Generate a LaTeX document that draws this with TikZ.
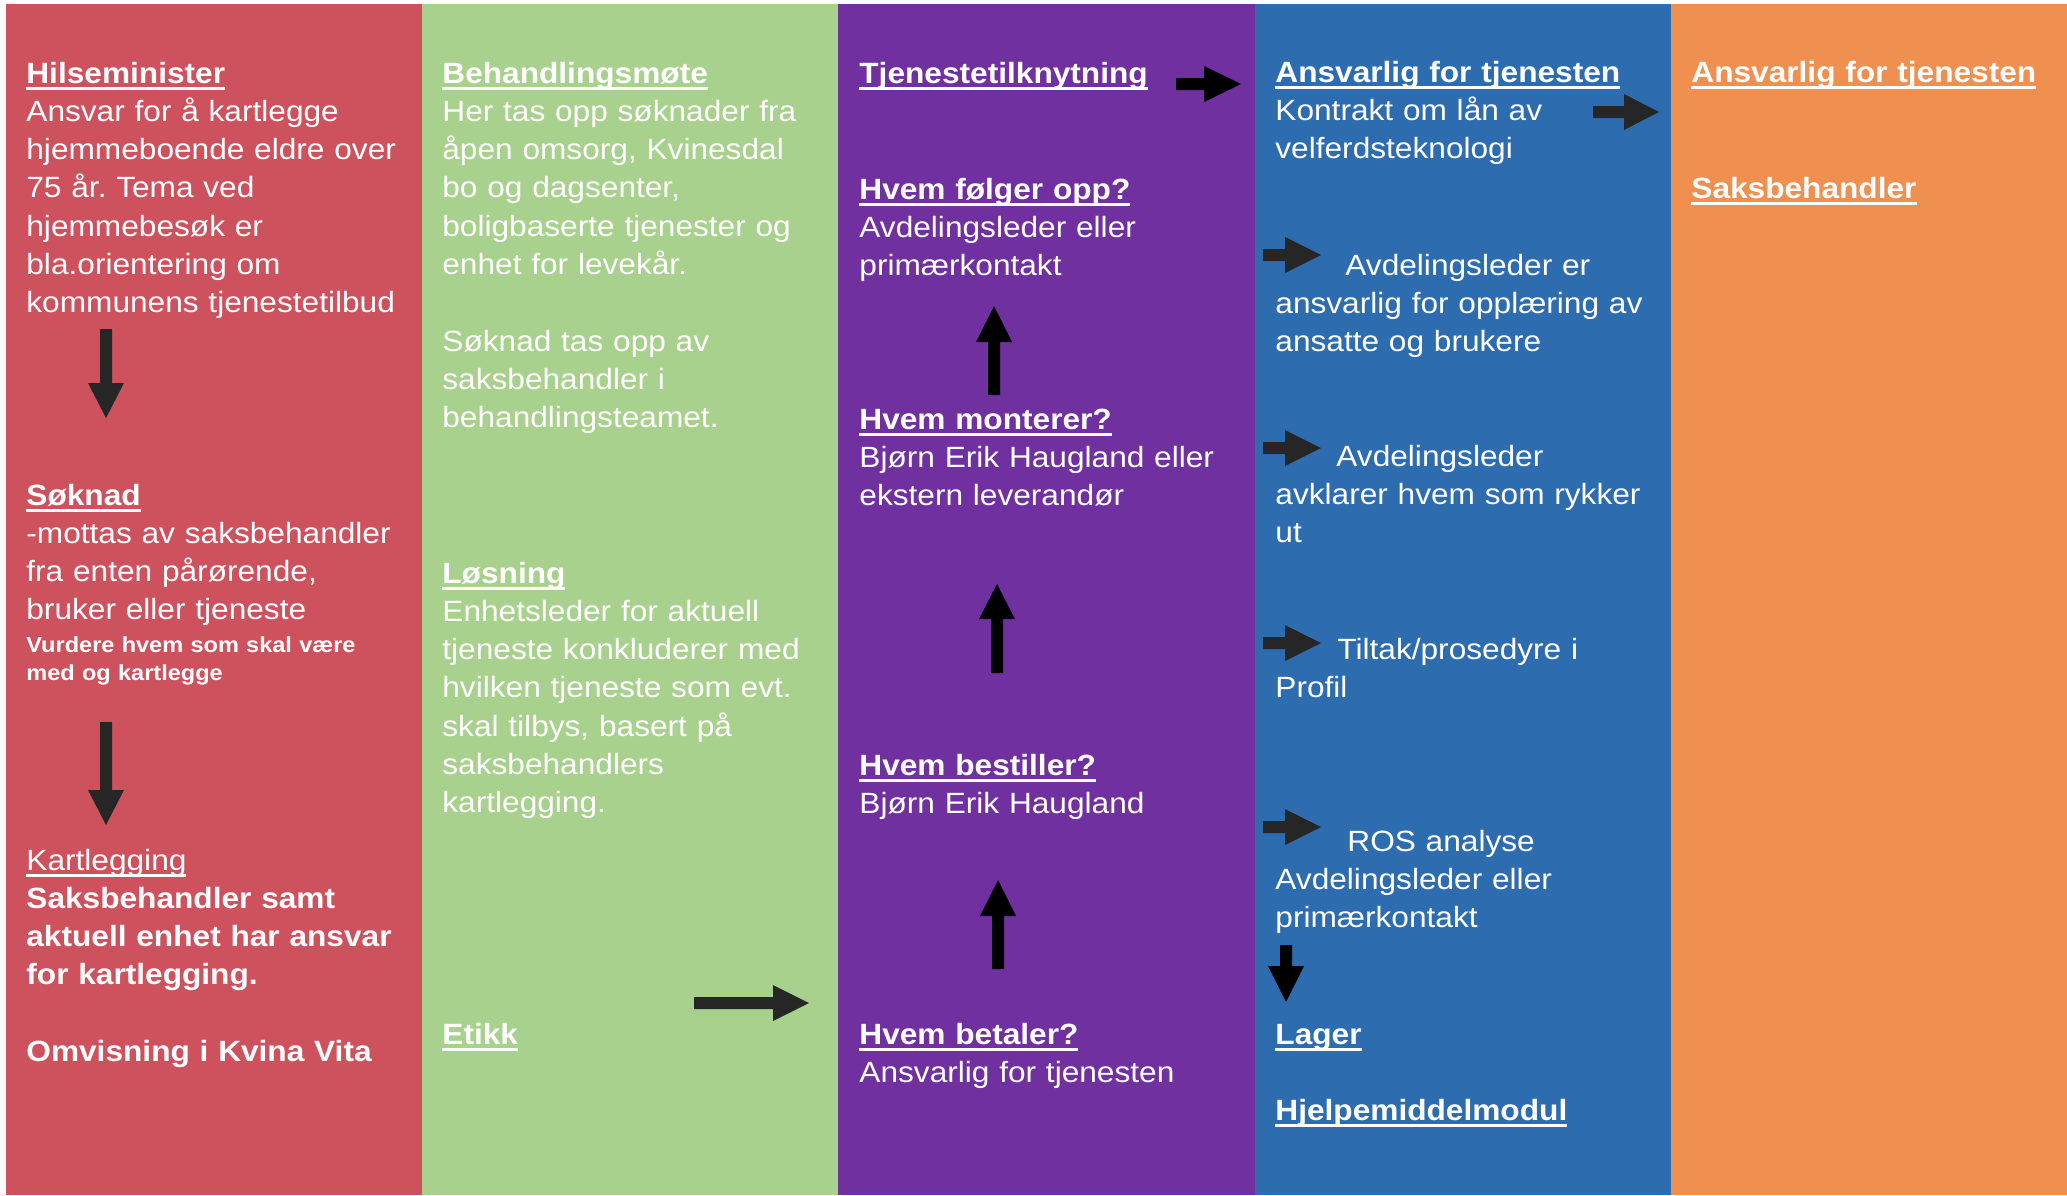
\documentclass[tikz,border=0pt]{standalone}
\usepackage{fontspec}
\setmainfont{Liberation Sans}[FakeStretch=1.08]
\frenchspacing
\newcommand\myul[1]{\setbox0\hbox{#1}\rlap{\rule[-3.4pt]{\wd0}{1.3pt}}\box0}
\definecolor{cred}{RGB}{206,82,94}
\definecolor{cgreen}{RGB}{169,209,142}
\definecolor{cpurple}{RGB}{112,48,160}
\definecolor{cblue}{RGB}{46,108,176}
\definecolor{corange}{RGB}{239,143,80}
\definecolor{dk}{RGB}{38,38,38}
\newcommand\rarr[5]{\fill[#5] (#1,#4-6) -- (#2,#4-6) -- (#2,#4-18) -- (#3,#4) -- (#2,#4+18) -- (#2,#4+6) -- (#1,#4+6) -- cycle;}
\newcommand\uarr[5]{\fill[#5] (#1-6,#2) -- (#1-6,#3) -- (#1-18,#3) -- (#1,#4) -- (#1+18,#3) -- (#1+6,#3) -- (#1+6,#2) -- cycle;}
\newcommand\darr[5]{\fill[#5] (#1-6,#2) -- (#1+6,#2) -- (#1+6,#3) -- (#1+18,#3) -- (#1,#4) -- (#1-18,#3) -- (#1-6,#3) -- cycle;}
\tikzset{
  txt/.style={anchor=base west, inner sep=0pt, text=white, text width=200pt, align=left,
    font=\fontsize{14.65pt}{19.15pt}\selectfont},
  smalltxt/.style={txt, font=\fontsize{10.9pt}{14pt}\selectfont\bfseries},
}
\begin{document}
\begin{tikzpicture}[x=0.5pt, y=-0.5pt]
\useasboundingbox (0,0) rectangle (2067,1195);
\fill[white] (0,0) rectangle (2067,1195);
% columns
\fill[cred] (6,4) rectangle (422,1195);
\fill[cgreen] (422,4) rectangle (838,1195);
\fill[cpurple] (838,4) rectangle (1255,1195);
\fill[cblue] (1255,4) rectangle (1671,1195);
\fill[corange] (1671,4) rectangle (2067,1195);

% column 1
\node[txt] (hils) at (26,83) {\myul{\textbf{Hilseminister}}\\Ansvar for å kartlegge\\hjemmeboende eldre over\\75 år. Tema ved\\hjemmebesøk er\\bla.orientering om\\kommunens tjenestetilbud};
\node[txt] (sokn) at (26,505) {\myul{\textbf{Søknad}}\\-mottas av saksbehandler\\fra enten pårørende,\\bruker eller tjeneste};
\node[smalltxt] (vurd) at (26,652) {Vurdere hvem som skal være\\med og kartlegge};
\node[txt] (kart) at (26,870) {\myul{Kartlegging}\\\textbf{Saksbehandler samt}\\\textbf{aktuell enhet har ansvar}\\\textbf{for kartlegging.}\\[19.15pt]\textbf{Omvisning i Kvina Vita}};
\darr{106}{329}{383}{418}{dk}
\darr{106}{722}{790}{825}{dk}

% column 2
\node[txt] (beh) at (442,83) {\myul{\textbf{Behandlingsmøte}}\\Her tas opp søknader fra\\åpen omsorg, Kvinesdal\\bo og dagsenter,\\boligbaserte tjenester og\\enhet for levekår.\\[19.15pt]Søknad tas opp av\\saksbehandler i\\behandlingsteamet.};
\node[txt] (los) at (442,583) {\myul{\textbf{Løsning}}\\Enhetsleder for aktuell\\tjeneste konkluderer med\\hvilken tjeneste som evt.\\skal tilbys, basert på\\saksbehandlers\\kartlegging.};
\node[txt] (etikk) at (442,1044) {\myul{\textbf{Etikk}}};
\rarr{694}{773}{809}{1003}{dk}

% column 3
\node[txt] (tjen) at (859,83) {\myul{\textbf{Tjenestetilknytning}}};
\node[txt] (folg) at (859,199) {\myul{\textbf{Hvem følger opp?}}\\Avdelingsleder eller\\primærkontakt};
\node[txt] (mont) at (859,429) {\myul{\textbf{Hvem monterer?}}\\Bjørn Erik Haugland eller\\ekstern leverandør};
\node[txt] (best) at (859,775) {\myul{\textbf{Hvem bestiller?}}\\Bjørn Erik Haugland};
\node[txt] (beta) at (859,1044) {\myul{\textbf{Hvem betaler?}}\\Ansvarlig for tjenesten};
\rarr{1176}{1204}{1241}{84}{black}
\uarr{994}{395}{342}{306}{black}
\uarr{997}{673}{619}{584}{black}
\uarr{998}{969}{916}{880}{black}

% column 4
\node[txt] (ansv) at (1275,82) {\myul{\textbf{Ansvarlig for tjenesten}}\\Kontrakt om lån av\\velferdsteknologi};
\node[txt] (opp) at (1275,275) {\hspace*{35pt}Avdelingsleder er\\ansvarlig for opplæring av\\ansatte og brukere};
\node[txt] (avk) at (1275,466) {\hspace*{30.5pt}Avdelingsleder\\avklarer hvem som rykker\\ut};
\node[txt] (tilt) at (1275,659) {\hspace*{31pt}Tiltak/prosedyre i\\Profil};
\node[txt] (ros) at (1275,851) {\hspace*{36pt}ROS analyse\\Avdelingsleder eller\\primærkontakt};
\node[txt] (lager) at (1275,1044) {\myul{\textbf{Lager}}};
\node[txt] (hjelp) at (1275,1120) {\myul{\textbf{Hjelpemiddelmodul}}};
\rarr{1593}{1624}{1659}{112}{dk}
\rarr{1263}{1285}{1321}{255}{dk}
\rarr{1263}{1285}{1321}{448}{dk}
\rarr{1263}{1285}{1321}{643}{dk}
\rarr{1263}{1285}{1321}{827}{dk}
\darr{1286}{945}{966}{1002}{black}

% column 5
\node[txt] (ansv2) at (1691,82) {\myul{\textbf{Ansvarlig for tjenesten}}};
\node[txt] (saks) at (1691,198) {\myul{\textbf{Saksbehandler}}};
\end{tikzpicture}
\end{document}
